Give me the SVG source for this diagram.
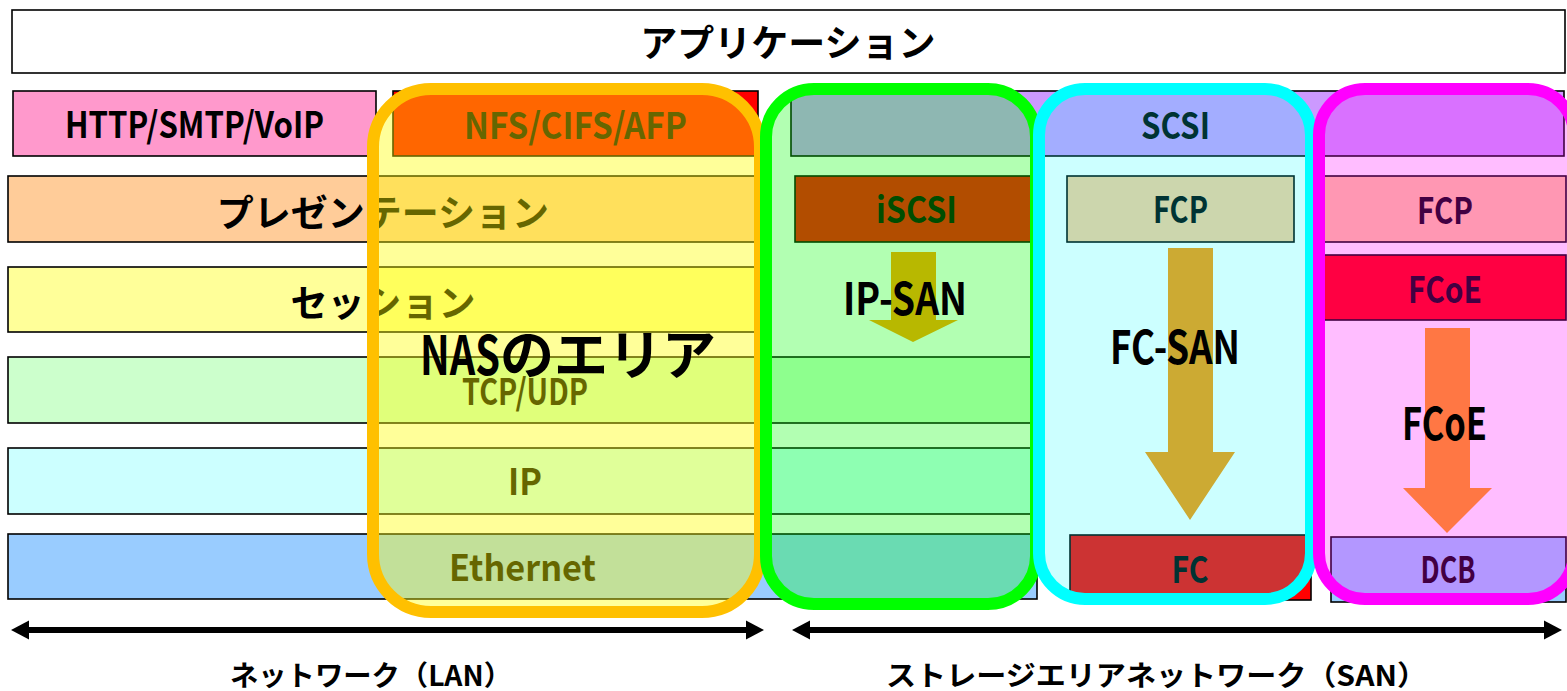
<svg xmlns="http://www.w3.org/2000/svg" width="1567" height="691" viewBox="0 0 1567 691">
<style>
.b{stroke:#000;stroke-width:1.6}
.t{font-family:"Noto Sans CJK JP","Noto Sans",sans-serif;font-weight:bold;fill:#000;text-anchor:middle}
.j{dominant-baseline:central}
.ov{stroke-width:12}
</style>
<defs>
<marker id="ah" viewBox="0 0 18 20" refX="1" refY="10" markerWidth="18" markerHeight="20" markerUnits="userSpaceOnUse" orient="auto-start-reverse">
<path d="M18,10 L0,0.5 L0,19.5 Z" fill="#000"/>
</marker>
</defs>
<rect width="1567" height="691" fill="#fff"/>
<g id="application"><rect class="b" x="12" y="10" width="1553" height="63" fill="#fff"/><text class="t j" x="788" y="41" font-size="37">アプリケーション</text></g>
<g id="http"><rect class="b" x="13" y="91" width="363" height="65" fill="#FF99CC"/><text class="t" x="194.5" y="138" font-size="36" textLength="259" lengthAdjust="spacingAndGlyphs">HTTP/SMTP/VoIP</text></g>
<g id="nfs"><rect class="b" x="393" y="91" width="365" height="65" fill="#FF0000"/><text class="t" x="575.5" y="139" font-size="36" textLength="223" lengthAdjust="spacingAndGlyphs">NFS/CIFS/AFP</text></g>
<g id="scsi"><rect class="b" x="791" y="91" width="773" height="65" fill="#CC99FF"/><text class="t" x="1175.5" y="139" font-size="36" textLength="69" lengthAdjust="spacingAndGlyphs">SCSI</text></g>
<g id="presentation"><rect class="b" x="8" y="176" width="749" height="66" fill="#FFCC99"/><text class="t j" x="383" y="211" font-size="37">プレゼンテーション</text></g>
<g id="iscsi"><rect class="b" x="795" y="176" width="245" height="66" fill="#FF0000"/><text class="t" x="916.5" y="223" font-size="36" textLength="81" lengthAdjust="spacingAndGlyphs">iSCSI</text></g>
<g id="fcp1"><rect class="b" x="1067" y="176" width="227" height="66" fill="#FFCC99"/><text class="t" x="1180.5" y="223" font-size="36" textLength="55" lengthAdjust="spacingAndGlyphs">FCP</text></g>
<g id="fcp2"><rect class="b" x="1323" y="176" width="243" height="66" fill="#FFCC99"/><text class="t" x="1445" y="224" font-size="36" textLength="56" lengthAdjust="spacingAndGlyphs">FCP</text></g>
<g id="session"><rect class="b" x="8" y="267" width="749" height="65" fill="#FFFF99"/><text class="t j" x="383" y="301" font-size="37">セッション</text></g>
<g id="fcoe-box"><rect class="b" x="1323" y="255" width="243" height="65" fill="#FF0000"/><text class="t" x="1445" y="303" font-size="36" textLength="74" lengthAdjust="spacingAndGlyphs">FCoE</text></g>
<g id="tcp"><rect class="b" x="8" y="357" width="1029" height="66" fill="#CCFFCC"/><text class="t" x="525" y="405" font-size="36" textLength="126" lengthAdjust="spacingAndGlyphs">TCP/UDP</text></g>
<g id="ip"><rect class="b" x="8" y="448" width="1029" height="66" fill="#CCFFFF"/><text class="t" x="525" y="495" font-size="36" textLength="34" lengthAdjust="spacingAndGlyphs">IP</text></g>
<g id="ethernet"><rect class="b" x="8" y="534" width="1029" height="65" fill="#99CCFF"/><text class="t" x="522.5" y="581" font-size="36" textLength="147" lengthAdjust="spacingAndGlyphs">Ethernet</text></g>
<g id="fc"><rect class="b" x="1070" y="535" width="241" height="65" fill="#FF0000"/><text class="t" x="1190" y="583" font-size="37" textLength="37" lengthAdjust="spacingAndGlyphs">FC</text></g>
<g id="dcb"><rect class="b" x="1331" y="537" width="235" height="65" fill="#99CCFF"/><text class="t" x="1448" y="583" font-size="37" textLength="55" lengthAdjust="spacingAndGlyphs">DCB</text></g>
<g id="nas-area"><rect class="ov" x="373" y="89" width="387" height="523" rx="58" fill="#FFFF00" fill-opacity="0.4" stroke="#FFC000"/></g>
<g id="ip-san-area"><rect class="ov" x="766" y="89" width="270" height="515" rx="48" fill="#00FF00" fill-opacity="0.3" stroke="#00FF00"/></g>
<g id="fc-san-area"><rect class="ov" x="1039" y="89" width="272" height="510" rx="46" fill="#00FFFF" fill-opacity="0.2" stroke="#00FFFF"/></g>
<g id="fcoe-area"><rect class="ov" x="1319" y="89" width="255" height="510" rx="46" fill="#FF00FF" fill-opacity="0.26" stroke="#FF00FF"/></g>
<g id="connectors">
<polygon points="891,252 936,252 936,320 958,320 913,342 869,320 891,320" fill="#B8B800"/>
<polygon points="1168,248 1213,248 1213,452 1235,452 1190,520 1145,452 1168,452" fill="#CCAA33"/>
<polygon points="1425,328 1470,328 1470,488 1492,488 1447,533 1403,488 1425,488" fill="#FF7744"/>
<line x1="28" y1="630" x2="747" y2="630" stroke="#000" stroke-width="6" marker-start="url(#ah)" marker-end="url(#ah)"/>
<line x1="809" y1="630" x2="1545" y2="630" stroke="#000" stroke-width="6" marker-start="url(#ah)" marker-end="url(#ah)"/>
</g>
<g id="labels">
<text class="t" x="420" y="375" font-size="54" style="text-anchor:start"><tspan textLength="80" lengthAdjust="spacingAndGlyphs">NAS</tspan><tspan>のエリア</tspan></text>
<text class="t" x="905" y="315" font-size="45" textLength="124" lengthAdjust="spacingAndGlyphs">IP-SAN</text>
<text class="t" x="1175" y="364" font-size="46" textLength="130" lengthAdjust="spacingAndGlyphs">FC-SAN</text>
<text class="t" x="1444.5" y="440" font-size="45" textLength="85" lengthAdjust="spacingAndGlyphs">FCoE</text>
<text class="t j" x="371" y="674" font-size="28" textLength="282" lengthAdjust="spacingAndGlyphs">ネットワーク（LAN）</text>
<text class="t j" x="1156.5" y="674" font-size="28" textLength="541" lengthAdjust="spacingAndGlyphs">ストレージエリアネットワーク（SAN）</text>
</g>
</svg>
